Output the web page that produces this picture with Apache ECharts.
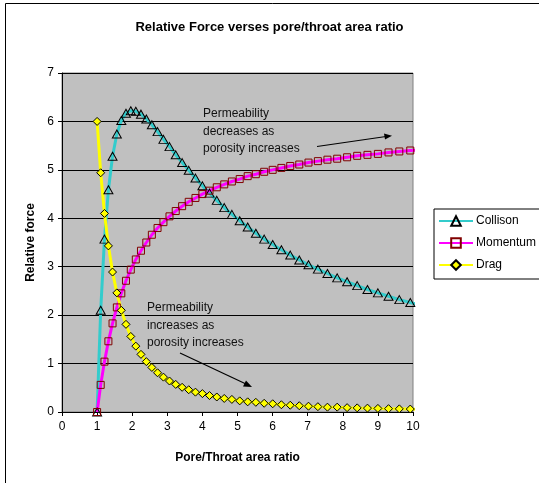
<!DOCTYPE html>
<html>
<head>
<meta charset="utf-8">
<script src="https://cdn.jsdelivr.net/npm/echarts@6/dist/echarts.min.js"></script>
<style>
html,body{margin:0;padding:0;background:#fff;}
#chart{width:539px;height:483px;}
</style>
</head>
<body>
<div id="chart"></div>
<script>
const titleText = 'Relative Force verses pore/throat area ratio';
const xAxisName = 'Pore/Throat area ratio';
const yAxisName = 'Relative force';
const seriesNames = ['Collison', 'Momentum', 'Drag'];

const xValues = [1, 1.1025, 1.21, 1.3225, 1.44, 1.5625, 1.69, 1.8225, 1.96, 2.1025,
  2.25, 2.4025, 2.56, 2.7225, 2.89, 3.0625, 3.24, 3.4225, 3.61, 3.8025,
  4, 4.2025, 4.41, 4.6225, 4.84, 5.0625, 5.29, 5.5225, 5.76, 6.0025,
  6.25, 6.5025, 6.76, 7.0225, 7.29, 7.5625, 7.84, 8.1225, 8.41, 8.7025,
  9, 9.3025, 9.61, 9.9225, 10.24];

const collision = [0, 2.10, 3.57, 4.59, 5.28, 5.74, 6.02, 6.17, 6.22, 6.21,
  6.15, 6.05, 5.93, 5.79, 5.63, 5.48, 5.31, 5.15, 4.99, 4.83,
  4.67, 4.52, 4.37, 4.22, 4.08, 3.95, 3.82, 3.69, 3.57, 3.46,
  3.35, 3.24, 3.14, 3.04, 2.95, 2.86, 2.77, 2.69, 2.61, 2.53,
  2.46, 2.39, 2.32, 2.26, 2.20];

const momentum = [0, 0.56, 1.04, 1.46, 1.83, 2.16, 2.45, 2.71, 2.94, 3.15,
  3.33, 3.50, 3.66, 3.80, 3.92, 4.04, 4.15, 4.25, 4.34, 4.42,
  4.50, 4.57, 4.64, 4.70, 4.76, 4.81, 4.87, 4.91, 4.96, 5.00,
  5.04, 5.08, 5.11, 5.15, 5.18, 5.21, 5.23, 5.26, 5.29, 5.31,
  5.33, 5.36, 5.38, 5.40, 5.41];

const drag = [6.00, 4.94, 4.10, 3.43, 2.89, 2.46, 2.10, 1.81, 1.56, 1.36,
  1.19, 1.04, 0.92, 0.81, 0.72, 0.64, 0.57, 0.51, 0.46, 0.41,
  0.38, 0.34, 0.31, 0.28, 0.26, 0.23, 0.21, 0.20, 0.18, 0.17,
  0.15, 0.14, 0.13, 0.12, 0.11, 0.10, 0.10, 0.09, 0.085, 0.08,
  0.074, 0.069, 0.065, 0.061, 0.057];

const note1 = ['Permeability', 'decreases as', 'porosity increases'];
const note2 = ['Permeability', 'increases as', 'porosity increases'];

function pairs(ys) { return xValues.map((x, i) => [x, ys[i]]); }

const font = '"Liberation Sans", Arial, sans-serif';
const chart = echarts.init(document.getElementById('chart'), null, {renderer: 'canvas'});

chart.setOption({
  animation: false,
  backgroundColor: '#ffffff',
  title: {
    text: titleText,
    left: 'center',
    top: 16,
    textStyle: {fontFamily: font, fontSize: 13, fontWeight: 'bold', color: '#000'}
  },
  grid: {
    left: 62, right: 126, top: 73, bottom: 71,
    show: true, backgroundColor: '#C0C0C0', borderColor: '#808080', borderWidth: 1
  },
  legend: {
    orient: 'vertical',
    left: 434, top: 209,
    data: seriesNames,
    itemWidth: 34, itemHeight: 12, itemGap: 10,
    padding: [6, 6, 8, 4],
    borderColor: '#000', borderWidth: 1,
    backgroundColor: '#fff',
    textStyle: {fontFamily: font, fontSize: 12, color: '#000', padding: [0,0,0,-2]}
  },
  xAxis: {
    type: 'value', min: 0, max: 10, interval: 1,
    name: xAxisName, nameLocation: 'middle', nameGap: 40,
    nameTextStyle: {fontFamily: font, fontSize: 12, fontWeight: 'bold', color: '#000'},
    axisLine: {show: true, onZero: false, lineStyle: {color: '#000', width: 1}},
    axisTick: {show: true, inside: false, length: 4, lineStyle: {color: '#000'}},
    axisLabel: {fontFamily: font, fontSize: 12, color: '#000', margin: 9},
    splitLine: {show: false}
  },
  yAxis: {
    type: 'value', min: 0, max: 7, interval: 1,
    name: yAxisName, nameLocation: 'middle', nameGap: 23, nameRotate: 90,
    nameTextStyle: {fontFamily: font, fontSize: 12, fontWeight: 'bold', color: '#000'},
    axisLine: {show: true, lineStyle: {color: '#000', width: 1}},
    axisTick: {show: true, inside: false, length: 4, lineStyle: {color: '#000'}},
    axisLabel: {fontFamily: font, fontSize: 12, color: '#000', margin: 8},
    splitLine: {show: true, lineStyle: {color: '#000', width: 1}}
  },
  series: [
    {
      name: seriesNames[0], type: 'line', data: pairs(collision), clip: true,
      symbol: 'triangle', symbolSize: [9, 8], showAllSymbol: true,
      lineStyle: {color: '#33CCCC', width: 3},
      itemStyle: {color: 'rgba(0,0,0,0)', borderColor: '#000', borderWidth: 1}
    },
    {
      name: seriesNames[1], type: 'line', data: pairs(momentum), clip: true,
      symbol: 'rect', symbolSize: 7, showAllSymbol: true,
      lineStyle: {color: '#FF00FF', width: 3},
      itemStyle: {color: 'rgba(0,0,0,0)', borderColor: '#800000', borderWidth: 1}
    },
    {
      name: seriesNames[2], type: 'line', data: pairs(drag), clip: true,
      symbol: 'diamond', symbolSize: 8, showAllSymbol: true,
      lineStyle: {color: '#FFFF00', width: 3},
      itemStyle: {color: '#FFFF00', borderColor: '#000', borderWidth: 1}
    }
  ],
  graphic: [
    {type: 'rect', silent: true, shape: {x: 5.5, y: 3.5, width: 700, height: 700},
     style: {fill: null, stroke: '#000', lineWidth: 1}, z: 100},
    {type: 'text', silent: true, left: 203, top: 105, z: 100,
     style: {text: note1.join('\n'), fontFamily: font, fontSize: 12, lineHeight: 17.5, fill: '#111'}},
    {type: 'line', silent: true, z: 100, shape: {x1: 317, y1: 146.5, x2: 386, y2: 136.5},
     style: {stroke: '#000', lineWidth: 1.2}},
    {type: 'polygon', silent: true, z: 100, shape: {points: [[392, 135.7], [384, 133.5], [385, 139.5]]},
     style: {fill: '#000'}},
    {type: 'text', silent: true, left: 147, top: 299, z: 100,
     style: {text: note2.join('\n'), fontFamily: font, fontSize: 12, lineHeight: 17.5, fill: '#111'}},
    {type: 'line', silent: true, z: 100, shape: {x1: 180, y1: 353, x2: 246, y2: 384},
     style: {stroke: '#000', lineWidth: 1.2}},
    {type: 'polygon', silent: true, z: 100, shape: {points: [[252, 387], [243, 386.5], [246, 380.5]]},
     style: {fill: '#000'}}
  ]
});
</script>
</body>
</html>
